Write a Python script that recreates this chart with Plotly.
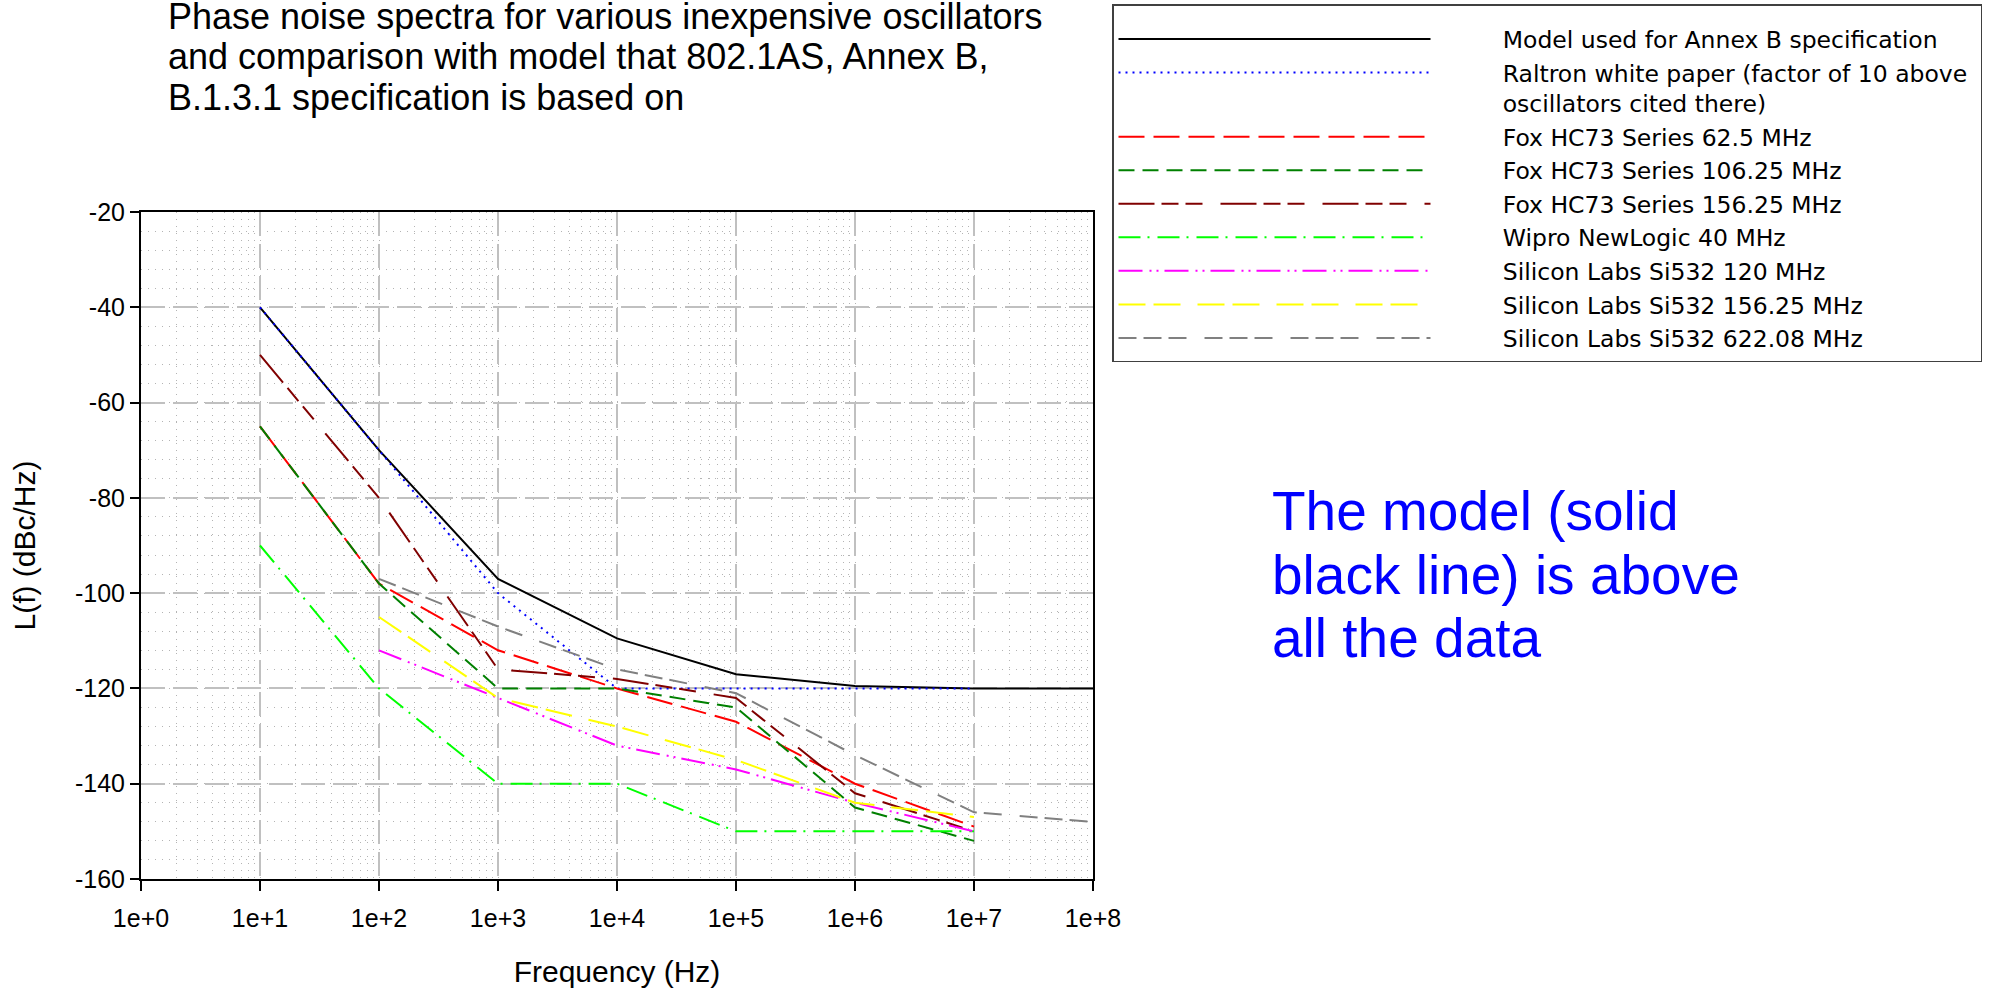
import plotly.graph_objects as go

# ---------------- data ----------------
freq_full = [1e1, 1e2, 1e3, 1e4, 1e5, 1e6, 1e7, 1e8]
freq_1to7 = [1e1, 1e2, 1e3, 1e4, 1e5, 1e6, 1e7]
freq_2to7 = [1e2, 1e3, 1e4, 1e5, 1e6, 1e7]
freq_2to8 = [1e2, 1e3, 1e4, 1e5, 1e6, 1e7, 1e8]

model_annex_b = [-40, -70, -97, -109.5, -117, -119.5, -120, -120]
raltron = [-40, -70, -100, -120, -120, -120, -120]
fox_62_5 = [-65, -98, -112, -120, -127, -140, -149]
fox_106_25 = [-65, -98, -120, -120, -124, -145, -152]
fox_156_25 = [-50, -80, -116, -118, -122, -142, -150]
wipro_40 = [-90, -120, -140, -140, -150, -150, -150]
si532_120 = [-112, -122, -132, -137, -144, -150]
si532_156_25 = [-105, -122, -128, -135, -144, -147]
si532_622_08 = [-97, -107, -116, -121, -134, -146, -148]

series_names = [
    ["Model used for Annex B specification"],
    ["Raltron white paper (factor of 10 above", "oscillators cited there)"],
    ["Fox HC73 Series 62.5 MHz"],
    ["Fox HC73 Series 106.25 MHz"],
    ["Fox HC73 Series 156.25 MHz"],
    ["Wipro NewLogic 40 MHz"],
    ["Silicon Labs Si532 120 MHz"],
    ["Silicon Labs Si532 156.25 MHz"],
    ["Silicon Labs Si532 622.08 MHz"],
]

x_tick_vals = [1e0, 1e1, 1e2, 1e3, 1e4, 1e5, 1e6, 1e7, 1e8]
x_tick_text = ["1e+0", "1e+1", "1e+2", "1e+3", "1e+4", "1e+5", "1e+6", "1e+7", "1e+8"]
y_tick_vals = [-20, -40, -60, -80, -100, -120, -140, -160]
y_tick_text = ["-20", "-40", "-60", "-80", "-100", "-120", "-140", "-160"]

title_lines = [
    "Phase noise spectra for various inexpensive oscillators",
    "and comparison with model that 802.1AS, Annex B,",
    "B.1.3.1 specification is based on",
]
note_lines = ["The model (solid", "black line) is above", "all the data"]

# ---------------- styles ----------------
FONT = "Liberation Sans, Arial, sans-serif"
LEG_FONT = "DejaVu Sans, Liberation Sans, sans-serif"
W, H = 1994, 989
L, R, T, B = 141, 1093, 212, 879  # plot area in px

styles = [
    dict(color="#000000", dash="solid", width=2),
    dict(color="#0000ff", dash="2px,5px", width=2),
    dict(color="#ff0000", dash="26px,9px", width=2),
    dict(color="#008000", dash="16px,8px", width=2),
    dict(color="#800000", dash="36px,7px,17px,7px,17px,18px", width=2),
    dict(color="#00ff00", dash="22px,7px,2px,8px", width=2),
    dict(color="#ff00ff", dash="24px,7px,2px,5px,2px,6px", width=2),
    dict(color="#ffff00", dash="27px,8px,27px,17px", width=2),
    dict(color="#808080", dash="18px,7px,18px,7px,18px,18px", width=2),
]
xs = [freq_full, freq_1to7, freq_1to7, freq_1to7, freq_1to7, freq_1to7,
      freq_2to7, freq_2to7, freq_2to8]
ys = [model_annex_b, raltron, fox_62_5, fox_106_25, fox_156_25, wipro_40,
      si532_120, si532_156_25, si532_622_08]

pad = "\u00a0" * 9
tail = "\u00a0" * 1
fig = go.Figure()
for x, y, name_lines, st in zip(xs, ys, series_names, styles):
    name = "<br>".join(pad + s for s in name_lines)
    if len(name_lines) > 1:
        name = pad + name_lines[0] + tail + "<br>" + pad + name_lines[1]
    fig.add_trace(go.Scatter(x=x, y=y, mode="lines", name=name, line=st))


def px_to_paper_x(px):
    return (px - L) / (R - L)


def px_to_paper_y(py):
    return (B - py) / (B - T)


annotations = []
title_centers = [16, 56, 97]
for txt, cy in zip(title_lines, title_centers):
    annotations.append(dict(
        text=txt, xref="paper", yref="paper",
        x=px_to_paper_x(166), y=px_to_paper_y(cy),
        xanchor="left", yanchor="middle", showarrow=False,
        font=dict(family=FONT, size=36, color="#000000")))
for i, txt in enumerate(note_lines):
    annotations.append(dict(
        text=txt, xref="paper", yref="paper",
        x=px_to_paper_x(1270), y=px_to_paper_y(511 + 63.5 * i),
        xanchor="left", yanchor="middle", showarrow=False,
        font=dict(family=FONT, size=55, color="#0000ff")))

grid_major = "#c0c0c0"
grid_minor = "#b4b4b4"

fig.update_layout(
    width=W, height=H,
    margin=dict(l=L, r=W - R, t=T, b=H - B, autoexpand=False),
    paper_bgcolor="white", plot_bgcolor="white",
    font=dict(family=FONT, size=25, color="#000000"),
    showlegend=True,
    legend=dict(
        xref="container", yref="container",
        x=1112 / W, y=1 - 4 / H, xanchor="left", yanchor="top",
        bgcolor="white", bordercolor="#404040", borderwidth=1.5,
        font=dict(family=LEG_FONT, size=23.5, color="#000000"),
        title=dict(text="\u00a0", font=dict(family=FONT, size=9)),
        itemwidth=312, valign="top", tracegroupgap=0,
        traceorder="normal",
    ),
    annotations=annotations,
    xaxis=dict(
        type="log", range=[0, 8],
        tickvals=x_tick_vals, ticktext=x_tick_text,
        ticks="outside", ticklen=10, tickwidth=1.5, tickcolor="#000000",
        ticklabelstandoff=6,
        showline=True, linecolor="#000000", linewidth=2, mirror=True,
        showgrid=True, gridcolor=grid_major, gridwidth=2, griddash="24px,8px",
        minor=dict(dtick="D1", showgrid=True, gridcolor=grid_minor,
                   gridwidth=1, griddash="1px,6px", ticks=""),
        zeroline=False,
        tickfont=dict(family=FONT, size=25),
        title=dict(text="Frequency (Hz)", font=dict(family=FONT, size=30), standoff=30),
    ),
    yaxis=dict(
        range=[-160, -20], tickvals=y_tick_vals, ticktext=y_tick_text,
        ticks="outside", ticklen=9, tickwidth=1.5, tickcolor="#000000",
        showline=True, linecolor="#000000", linewidth=2, mirror=True,
        showgrid=True, gridcolor=grid_major, gridwidth=2, griddash="24px,8px",
        minor=dict(dtick=4, showgrid=True, gridcolor=grid_minor,
                   gridwidth=1, griddash="1px,6px", ticks=""),
        zeroline=False,
        tickfont=dict(family=FONT, size=25),
        title=dict(text="L(f) (dBc/Hz)", font=dict(family=FONT, size=30), standoff=30),
    ),
)

fig.write_html("out.html", config={"displayModeBar": False},
               post_script="document.body.style.margin='0px';")
